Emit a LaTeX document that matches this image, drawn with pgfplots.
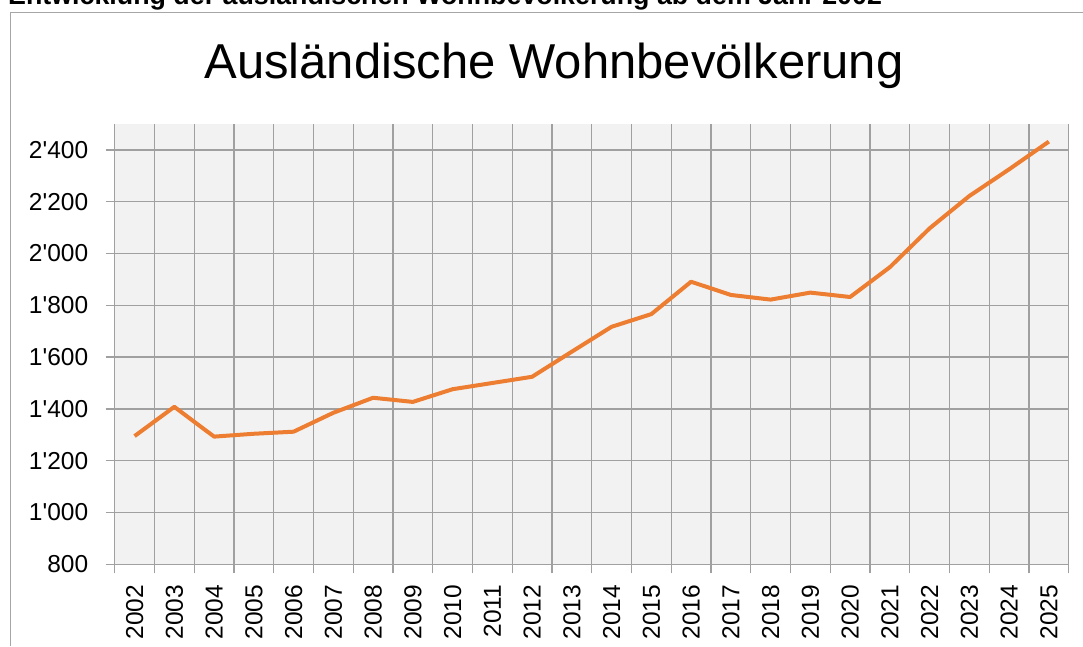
\documentclass[border=0pt]{standalone}
\usepackage{fontspec}
\setmainfont{Liberation Sans}
\usepackage{pgfplots}
\pgfplotsset{compat=1.18}
\definecolor{GridGray}{HTML}{A0A0A0}
\definecolor{PlotBg}{HTML}{F2F2F2}
\definecolor{LineOrange}{HTML}{ED7D31}
\definecolor{FrameGray}{HTML}{A6A6A6}

\begin{document}
\begin{tikzpicture}[x=1pt,y=1pt]
\clip (0,0) rectangle (1083,646);
% header of the page, cut at the top
\node[anchor=base west,inner sep=0pt,font=\fontsize{26.8}{27}\selectfont\bfseries]
  at (8,641) {Entwicklung der ausländischen Wohnbevölkerung ab dem Jahr 2002};
\draw[FrameGray,line width=1.5pt] (10.5,0) -- (10.5,633.5) -- (1083,633.5);
\node[anchor=base,inner sep=0pt,font=\fontsize{49}{50}\selectfont]
  at (554,567.7) {Ausländische Wohnbevölkerung};
\begin{axis}[
  at={(114.7pt,81.7pt)}, anchor=south west,
  scale only axis, width=954pt, height=440.3pt,
  xmin=-0.5, xmax=23.5, ymin=800, ymax=2500,
  axis background/.style={fill=PlotBg},
  axis x line*=bottom, axis y line*=left,
  axis line style={GridGray,line width=1.3pt,-},
  xtick={0,...,23},
  xticklabels={2002,2003,2004,2005,2006,2007,2008,2009,2010,2011,2012,2013,
               2014,2015,2016,2017,2018,2019,2020,2021,2022,2023,2024,2025},
  minor xtick={-0.5,0.5,...,23.5},
  ytick={800,1000,...,2400},
  xminorgrids, ymajorgrids,
  grid style={GridGray,line width=1.3pt},
  minor grid style={GridGray,line width=1.3pt},
  tick align=outside,
  major tick length=9pt, minor tick length=9pt,
  major x tick style={draw=none},
  minor x tick style={GridGray,line width=1.3pt},
  ytick style={GridGray,line width=1.3pt},
  tick label style={font=\fontsize{24.5}{25}\selectfont,color=black},
  xticklabel style={rotate=90,anchor=east,xshift=-8pt},
  yticklabel style={xshift=-14pt},
  /pgf/number format/assume math mode=true,
  /pgf/number format/1000 sep={\textquotesingle},
]
\addplot[LineOrange,line width=4pt,line join=round,mark=none] coordinates {
  (0,1295) (1,1408) (2,1293) (3,1304) (4,1312) (5,1385) (6,1443) (7,1427)
  (8,1476) (9,1500) (10,1524) (11,1621) (12,1717) (13,1766) (14,1891) (15,1840)
  (16,1822) (17,1849) (18,1832) (19,1947) (20,2097) (21,2222) (22,2325) (23,2432)};
\end{axis}
\end{tikzpicture}
\end{document}
